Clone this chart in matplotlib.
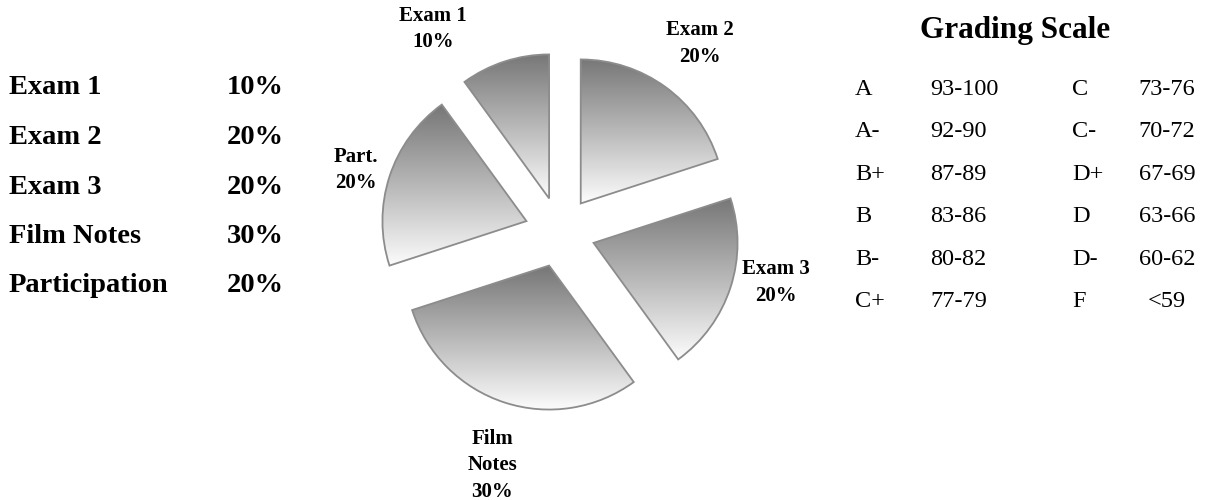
import numpy as np
import matplotlib
matplotlib.use("Agg")
import matplotlib.pyplot as plt
from matplotlib.colors import LinearSegmentedColormap

# course weights (pie is drawn clockwise starting at 12 o'clock)
pie_names = ["Exam 2", "Exam 3", "Film Notes", "Part.", "Exam 1"]
pie_values = [20, 20, 30, 20, 10]
pie_label_text = ["Exam 2\n20%", "Exam 3\n20%", "Film\nNotes\n30%", "Part.\n20%", "Exam 1\n10%"]

# left hand table
weight_names = ["Exam 1", "Exam 2", "Exam 3", "Film Notes", "Participation"]
weight_pcts = ["10%", "20%", "20%", "30%", "20%"]

# grading scale, two columns
grades_left = ["A", "A-", "B+", "B", "B-", "C+"]
ranges_left = ["93-100", "92-90", "87-89", "83-86", "80-82", "77-79"]
grades_right = ["C", "C-", "D+", "D", "D-", "F"]
ranges_right = ["73-76", "70-72", "67-69", "63-66", "60-62", "<59"]

W, H = 1209, 500
fig = plt.figure(figsize=(W / 100, H / 100), dpi=100)
fig.patch.set_facecolor("white")
serif = "Liberation Serif"

# pie axes fill the figure, 1 data unit == pie radius (144 px)
R = 144.0
cx, cy = 560.0, 232.0
ax = fig.add_axes([0, 0, 1, 1])

wedges, _ = ax.pie(pie_values, startangle=90, counterclock=False, radius=1,
                   explode=[0.245] * len(pie_values),
                   wedgeprops=dict(facecolor="none", edgecolor="#8c8c8c", linewidth=1.3))

cmap = LinearSegmentedColormap.from_list("shade", ["#fcfcfc", "#b8b8b8", "#777777"])
grad = np.linspace(0, 1, 256).reshape(-1, 1)
for w in wedges:
    bb = w.get_path().get_extents()
    im = ax.imshow(grad, cmap=cmap, origin="lower", aspect="auto", interpolation="bilinear",
                   extent=[bb.x0, bb.x1, bb.y0, bb.y1], zorder=0)
    im.set_clip_path(w)

# slice labels, offsets in radius units from the pie centre
label_pos = [(0.97, 1.31), (1.50, -0.35), (-0.47, -1.62), (-1.42, 0.43), (-0.88, 1.41)]
for txt, (lx, ly) in zip(pie_label_text, label_pos):
    ax.text(lx, ly, txt, ha="center", va="center", fontsize=15, fontweight="bold",
            family=serif, linespacing=1.45)

ax.set_xlim(-cx / R, (W - cx) / R)
ax.set_ylim(-(H - cy) / R, cy / R)
ax.set_aspect("equal")
ax.axis("off")


def px(x, y):
    return x / W, 1 - y / H


# left table
for i, (n, p) in enumerate(zip(weight_names, weight_pcts)):
    yb = 94.5 + i * 49.5
    fig.text(*px(9, yb), n, fontsize=20.5, fontweight="bold", family=serif, va="baseline")
    fig.text(*px(227, yb), p, fontsize=20.5, fontweight="bold", family=serif, va="baseline")

# grading scale
fig.text(*px(1015, 38), "Grading Scale", fontsize=22.5, fontweight="bold", family=serif,
         ha="center", va="baseline")
for i in range(len(grades_left)):
    yb = 95 + i * 42.4
    fig.text(*px(855, yb), grades_left[i], fontsize=17.5, family=serif, va="baseline")
    fig.text(*px(930, yb), ranges_left[i], fontsize=17.5, family=serif, va="baseline")
    fig.text(*px(1072, yb), grades_right[i], fontsize=17.5, family=serif, va="baseline")
    fig.text(*px(1167, yb), ranges_right[i], fontsize=17.5, family=serif, va="baseline",
             ha="center")

fig.savefig("out.png", dpi=100, facecolor="white")
